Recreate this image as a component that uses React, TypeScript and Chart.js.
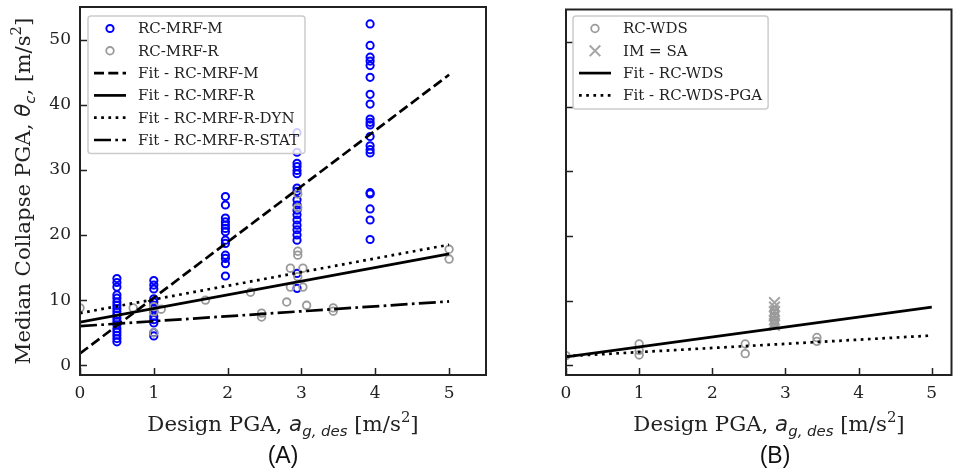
import React, { useEffect, useRef } from "react";
import { Chart, registerables } from "chart.js";

Chart.register(...registerables);

// ---------------- ticks ----------------
const xTickValues = [0, 1, 2, 3, 4, 5];
const yTickValues = [0, 10, 20, 30, 40, 50];

// ---------------- Panel A: RC-MRF ----------------
const mrfMLevels = [0.5, 1.0, 1.97, 2.94, 3.93];
const mrfMValues = [
  [13.3, 12.7, 12.0, 10.8, 10.3, 9.7, 9.2, 8.7, 8.2, 7.7, 7.2, 6.7, 6.2, 5.6, 5.1, 4.6, 4.1, 3.6],
  [13.0, 12.3, 11.7, 10.2, 9.7, 9.2, 8.7, 8.2, 7.5, 7.0, 6.5, 5.0, 4.5],
  [25.9, 24.6, 22.6, 22.0, 21.5, 21.0, 20.5, 19.2, 18.7, 16.9, 16.4, 15.6, 13.7],
  [35.7, 32.7, 31.0, 30.5, 29.9, 29.4, 27.2, 26.7, 25.4, 24.6, 23.8, 23.1, 22.3, 21.5, 20.8, 20.0, 19.2, 14.1, 11.8],
  [52.4, 49.1, 47.3, 46.7, 46.0, 44.2, 41.6, 40.1, 37.8, 37.3, 36.9, 35.1, 33.7, 33.1, 32.6, 26.5, 26.3, 24.0, 22.3, 19.3],
];

const mrfRX = [0.0, 0.72, 1.0, 1.1, 1.0, 1.0, 1.7, 2.31, 2.46, 2.46, 2.95, 2.95, 2.95, 2.95, 2.85, 3.02, 2.95, 2.85, 3.02, 2.8, 3.07, 3.43, 3.43, 5.0, 5.0];
const mrfRY = [8.8, 8.8, 9.0, 8.6, 8.2, 5.0, 10.0, 11.2, 8.0, 7.4, 26.3, 24.2, 17.5, 16.9, 14.9, 14.9, 13.6, 12.0, 12.0, 9.7, 9.2, 8.8, 8.3, 17.8, 16.3];

const fitX = [0, 5];
const fitMRFM = [1.8, 44.6];
const fitMRFR = [6.6, 17.1];
const fitMRFRDyn = [8.0, 18.5];
const fitMRFRStat = [6.0, 9.8];

// ---------------- Panel B: RC-WDS ----------------
const wdsX = [0.0, 1.0, 1.0, 1.0, 2.45, 2.45, 2.85, 2.85, 2.85, 2.85, 2.85, 3.43, 3.43];
const wdsY = [1.5, 3.3, 2.3, 1.6, 3.3, 1.8, 8.5, 8.0, 7.5, 7.0, 6.5, 4.3, 3.7];
const imSaX = [2.85, 2.85, 2.85, 2.85, 2.85, 2.85, 2.85];
const imSaY = [9.7, 9.0, 8.3, 7.7, 7.0, 6.5, 6.2];
const fitWDS = [1.3, 9.0];
const fitWDSPGA = [1.4, 4.6];

// ---------------- helpers ----------------
const pts = (xs: number[], ys: number[]) => xs.map((x, i) => ({ x, y: ys[i] }));
const levelPts = (levels: number[], values: number[][]) =>
  levels.flatMap((lv, i) => values[i].map((v) => ({ x: lv, y: v })));

const SERIF = '"DejaVu Serif", serif';
const MATH = '"DejaVu Sans", sans-serif';
const INK = "#222222";
const BLUE = "#0000ff";
const GREY = "#9a9a9a";

type Seg = { t: string; f: string; dy?: number };

function drawRich(ctx: CanvasRenderingContext2D, segs: Seg[], cx: number, cy: number, rotate: boolean) {
  ctx.save();
  ctx.translate(cx, cy);
  if (rotate) ctx.rotate(-Math.PI / 2);
  ctx.textBaseline = "alphabetic";
  ctx.textAlign = "left";
  ctx.fillStyle = INK;
  let total = 0;
  const widths = segs.map((s) => {
    ctx.font = s.f;
    const w = ctx.measureText(s.t).width;
    total += w;
    return w;
  });
  let x = -total / 2;
  segs.forEach((s, i) => {
    ctx.font = s.f;
    ctx.fillText(s.t, x, s.dy || 0);
    x += widths[i];
  });
  ctx.restore();
}

const TS = 21.3;
const xTitleSegs: Seg[] = [
  { t: "Design PGA, ", f: `${TS}px ${SERIF}` },
  { t: "a", f: `italic ${TS}px ${MATH}` },
  { t: "g, des", f: `italic ${TS * 0.7}px ${MATH}`, dy: TS * 0.22 },
  { t: " [m/s", f: `${TS}px ${SERIF}` },
  { t: "2", f: `${TS * 0.7}px ${SERIF}`, dy: -TS * 0.4 },
  { t: "]", f: `${TS}px ${SERIF}` },
];
const yTitleSegs: Seg[] = [
  { t: "Median Collapse PGA, ", f: `${TS}px ${SERIF}` },
  { t: "θ", f: `italic ${TS}px ${MATH}` },
  { t: "c", f: `italic ${TS * 0.7}px ${MATH}`, dy: TS * 0.22 },
  { t: ", [m/s", f: `${TS}px ${SERIF}` },
  { t: "2", f: `${TS * 0.7}px ${SERIF}`, dy: -TS * 0.4 },
  { t: "]", f: `${TS}px ${SERIF}` },
];

const decorPlugin = {
  id: "decor",
  afterDraw(chart: any, _args: any, opts: any) {
    const ctx: CanvasRenderingContext2D = chart.ctx;
    const a = chart.chartArea;
    const xs = chart.scales.x;
    const ys = chart.scales.y;
    ctx.save();
    // inward ticks
    ctx.strokeStyle = INK;
    ctx.lineWidth = 1.5;
    ctx.beginPath();
    xTickValues.forEach((v) => {
      const px = Math.round(xs.getPixelForValue(v)) + 0.5;
      if (px < a.left || px > a.right) return;
      ctx.moveTo(px, a.bottom);
      ctx.lineTo(px, a.bottom - 7);
    });
    yTickValues.forEach((v) => {
      const py = Math.round(ys.getPixelForValue(v)) + 0.5;
      ctx.moveTo(a.left, py);
      ctx.lineTo(a.left + 7, py);
    });
    ctx.stroke();
    // frame
    ctx.lineWidth = 2;
    ctx.strokeRect(a.left, a.top, a.right - a.left, a.bottom - a.top);

    // legend
    const L = opts.legend;
    const items = chart.data.datasets;
    const rowH = 22.3;
    ctx.font = `15px ${SERIF}`;
    let maxW = 0;
    items.forEach((d: any) => (maxW = Math.max(maxW, ctx.measureText(d.label).width)));
    const w = 50 + maxW + 6;
    const h = 12.5 + (items.length - 1) * rowH + 13.5;
    ctx.beginPath();
    (ctx as any).roundRect(L.x, L.y, w, h, 3);
    ctx.fillStyle = "rgba(255,255,255,0.8)";
    ctx.fill();
    ctx.strokeStyle = "#cccccc";
    ctx.lineWidth = 1.5;
    ctx.stroke();
    items.forEach((d: any, i: number) => {
      const cy = L.y + 12.5 + i * rowH;
      const mx = L.x + 22;
      if (d.showLine) {
        ctx.beginPath();
        ctx.setLineDash(d.borderDash || []);
        ctx.strokeStyle = d.borderColor;
        ctx.lineWidth = d.borderWidth;
        ctx.moveTo(mx - 16, cy);
        ctx.lineTo(mx + 16, cy);
        ctx.stroke();
        ctx.setLineDash([]);
      } else if (d.pointStyle === "crossRot") {
        const r = d.pointRadius * 0.707;
        ctx.beginPath();
        ctx.strokeStyle = d.pointBorderColor;
        ctx.lineWidth = d.pointBorderWidth;
        ctx.moveTo(mx - r, cy - r);
        ctx.lineTo(mx + r, cy + r);
        ctx.moveTo(mx - r, cy + r);
        ctx.lineTo(mx + r, cy - r);
        ctx.stroke();
      } else {
        ctx.beginPath();
        ctx.strokeStyle = d.pointBorderColor;
        ctx.lineWidth = d.pointBorderWidth;
        ctx.arc(mx, cy, d.pointRadius, 0, Math.PI * 2);
        ctx.stroke();
      }
      ctx.fillStyle = INK;
      ctx.font = `15px ${SERIF}`;
      ctx.textBaseline = "middle";
      ctx.textAlign = "left";
      ctx.fillText(d.label, L.x + 50, cy + 1);
    });

    // titles
    drawRich(ctx, xTitleSegs, opts.titleX, 431, false);
    if (opts.yTitle) drawRich(ctx, yTitleSegs, 30, (a.top + a.bottom) / 2, true);
    ctx.font = `23px "Liberation Sans", Arial, sans-serif`;
    ctx.fillStyle = "#111";
    ctx.textAlign = "center";
    ctx.textBaseline = "alphabetic";
    ctx.fillText(opts.panelLabel, opts.panelLabelX, 463);
    ctx.restore();
  },
};

function scatterSet(label: string, data: any[], color: string, radius: number, bw: number, order: number, style = "circle") {
  return {
    label,
    data,
    showLine: false,
    pointStyle: style,
    pointRadius: radius,
    pointHoverRadius: radius,
    pointBorderWidth: bw,
    pointBorderColor: color,
    pointBackgroundColor: "rgba(0,0,0,0)",
    borderColor: color,
    backgroundColor: "rgba(0,0,0,0)",
    order,
  };
}
function fitSet(label: string, ys: number[], dash: number[]) {
  return {
    label,
    data: pts(fitX, ys),
    showLine: true,
    borderColor: "#000000",
    borderWidth: 2.7,
    borderDash: dash,
    pointRadius: 0,
    pointHoverRadius: 0,
    backgroundColor: "rgba(0,0,0,0)",
    order: 0,
  };
}

const DASHED = [10, 4.3];
const DOTTED = [2.7, 4.5];
const DASHDOT = [17, 4.3, 2.7, 4.3];

function makeConfig(datasets: any[], xMax: number, yAxisWidth: number, padRight: number, showYLabels: boolean, decor: any) {
  return {
    type: "scatter",
    data: { datasets },
    plugins: [decorPlugin],
    options: {
      animation: false,
      responsive: false,
      maintainAspectRatio: false,
      events: [],
      layout: { padding: { left: 0, top: 7, right: padRight, bottom: 0 } },
      plugins: {
        legend: { display: false },
        tooltip: { enabled: false },
        decor,
      },
      scales: {
        x: {
          type: "linear",
          min: 0,
          max: xMax,
          grid: { display: false, drawTicks: false },
          border: { display: false },
          afterBuildTicks: (s: any) => {
            s.ticks = xTickValues.map((v) => ({ value: v }));
          },
          afterFit: (s: any) => {
            s.height = 100;
            s.paddingLeft = 0;
            s.paddingRight = 0;
            s.paddingTop = 0;
            s.paddingBottom = 0;
          },
          ticks: { padding: 8, color: INK, font: { family: SERIF, size: 17 } },
        },
        y: {
          type: "linear",
          min: -1.5,
          max: 55,
          grid: { display: false, drawTicks: false },
          border: { display: false },
          afterBuildTicks: (s: any) => {
            s.ticks = yTickValues.map((v) => ({ value: v }));
          },
          afterFit: (s: any) => {
            s.width = yAxisWidth;
            s.paddingLeft = 0;
            s.paddingRight = 0;
            s.paddingTop = 0;
            s.paddingBottom = 0;
          },
          ticks: { display: showYLabels, padding: 9, color: INK, font: { family: SERIF, size: 17 } },
        },
      },
    },
  };
}

function Panel({ left, width, config }: { left: number; width: number; config: any }) {
  const ref = useRef<HTMLCanvasElement>(null);
  useEffect(() => {
    if (!ref.current) return;
    const chart = new Chart(ref.current, config);
    return () => chart.destroy();
  }, [config]);
  return (
    <canvas
      ref={ref}
      width={width}
      height={475}
      style={{ position: "absolute", left, top: 0, width, height: 475 }}
    />
  );
}

const configA = makeConfig(
  [
    scatterSet("RC-MRF-M", levelPts(mrfMLevels, mrfMValues), BLUE, 3.6, 2, 3),
    scatterSet("RC-MRF-R", pts(mrfRX, mrfRY), GREY, 3.8, 1.8, 2),
    fitSet("Fit - RC-MRF-M", fitMRFM, DASHED),
    fitSet("Fit - RC-MRF-R", fitMRFR, []),
    fitSet("Fit - RC-MRF-R-DYN", fitMRFRDyn, DOTTED),
    fitSet("Fit - RC-MRF-R-STAT", fitMRFRStat, DASHDOT),
  ],
  5.5,
  80,
  34,
  true,
  { legend: { x: 88, y: 16 }, titleX: 283, yTitle: true, panelLabel: "(A)", panelLabelX: 283 }
);

const configB = makeConfig(
  [
    scatterSet("RC-WDS", pts(wdsX, wdsY), GREY, 3.8, 1.8, 2),
    scatterSet("IM = SA", pts(imSaX, imSaY), "#a5a5a5", 7.5, 2, 3, "crossRot"),
    fitSet("Fit - RC-WDS", fitWDS, []),
    fitSet("Fit - RC-WDS-PGA", fitWDSPGA, DOTTED),
  ],
  5.27,
  46,
  4,
  false,
  { legend: { x: 573 - 520, y: 16 }, titleX: 769 - 520, yTitle: false, panelLabel: "(B)", panelLabelX: 775 - 520 }
);

export default function App() {
  return (
    <div style={{ position: "absolute", left: 0, top: 0, width: 961, height: 475, background: "#fff" }}>
      <Panel left={0} width={520} config={configA} />
      <Panel left={520} width={441} config={configB} />
    </div>
  );
}
